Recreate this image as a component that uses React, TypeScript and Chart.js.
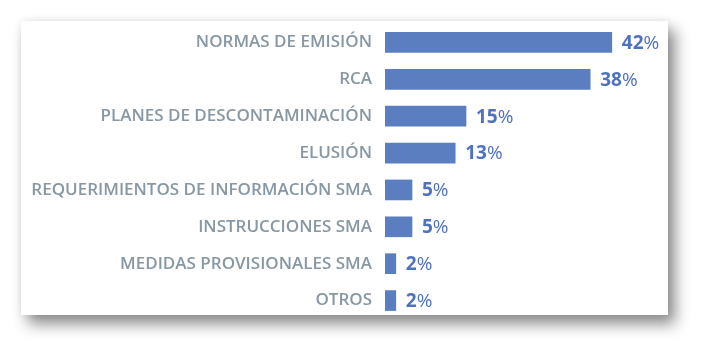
import React, { useEffect, useRef } from "react";
import { Chart, registerables } from "chart.js";

Chart.register(...registerables);

const categories = [
  "NORMAS DE EMISIÓN",
  "RCA",
  "PLANES DE DESCONTAMINACIÓN",
  "ELUSIÓN",
  "REQUERIMIENTOS DE INFORMACIÓN SMA",
  "INSTRUCCIONES SMA",
  "MEDIDAS PROVISIONALES SMA",
  "OTROS",
];
const values = [42, 38, 15, 13, 5, 5, 2, 2];

const BAR_COLOR = "#5B7EC0";
const LABEL_COLOR = "#8797A3";
const VALUE_COLOR = "#4F72BE";
const FONT = "'Open Sans', 'DejaVu Sans', sans-serif";

const valueLabelPlugin = {
  id: "valueLabels",
  afterDatasetsDraw(chart: any) {
    const ctx = chart.ctx;
    const meta = chart.getDatasetMeta(0);
    ctx.save();
    ctx.textBaseline = "middle";
    ctx.textAlign = "left";
    meta.data.forEach((bar: any, i: number) => {
      const num = String(values[i]);
      const x = bar.x + 10;
      const y = bar.y + 1;
      ctx.fillStyle = VALUE_COLOR;
      ctx.font = `700 19px ${FONT}`;
      ctx.fillText(num, x, y);
      const w = ctx.measureText(num).width;
      ctx.font = `400 19px ${FONT}`;
      ctx.fillText("%", x + w, y);
    });
    ctx.restore();
  },
};

export default function App() {
  const ref = useRef<HTMLCanvasElement | null>(null);
  useEffect(() => {
    if (!ref.current) return;
    const chart = new Chart(ref.current, {
      type: "bar",
      data: {
        labels: categories,
        datasets: [
          {
            data: values,
            backgroundColor: BAR_COLOR,
            borderWidth: 0,
            barThickness: 20,
          },
        ],
      },
      options: {
        indexAxis: "y",
        animation: false,
        responsive: false,
        maintainAspectRatio: false,
        layout: { padding: { top: 3, bottom: 2, right: 13, left: 0 } },
        plugins: { legend: { display: false }, tooltip: { enabled: false } },
        scales: {
          x: {
            display: false,
            min: 0,
            max: 50,
          },
          y: {
            grid: { display: false, drawTicks: false },
            border: { display: false },
            afterFit(scale: any) {
              scale.width = 364;
              scale.paddingTop = 0;
              scale.paddingBottom = 0;
            },
            ticks: {
              padding: 13,
              color: LABEL_COLOR,
              font: { family: FONT, size: 17, weight: "600" },
            },
          },
        },
      },
      plugins: [valueLabelPlugin],
    });
    return () => chart.destroy();
  }, []);

  return (
    <div
      style={{
        position: "absolute",
        left: 0,
        top: 0,
        width: 710,
        height: 357,
        background: "#ffffff",
        overflow: "hidden",
      }}
    >
      <div
        style={{
          position: "absolute",
          left: 21,
          top: 21,
          width: 647,
          height: 294,
          background: "#ffffff",
          boxShadow: "7px 9px 14px rgba(0,0,0,0.45), 0 0 8px rgba(0,0,0,0.08)",
        }}
      />
      <canvas
        ref={ref}
        width={647}
        height={300}
        style={{ position: "absolute", left: 21, top: 21, width: 647, height: 300 }}
      />
    </div>
  );
}
